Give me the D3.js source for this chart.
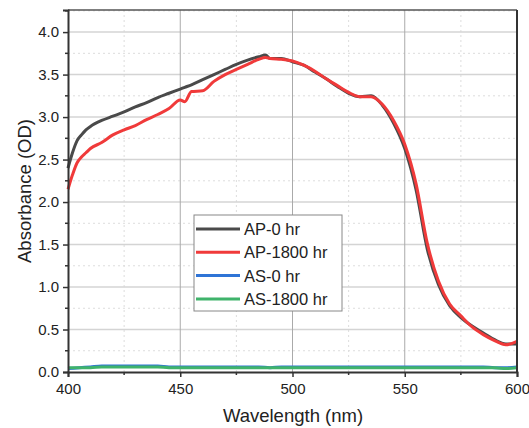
<!DOCTYPE html>
<html><head><meta charset="utf-8">
<script src="https://cdn.jsdelivr.net/npm/d3@7"></script>
<style>body{margin:0;background:#fff}svg{display:block}text{font-family:"Liberation Sans",Arial,sans-serif}</style>
</head><body>
<svg id="c" width="529" height="428"></svg>
<script>
const seriesNames = ["AP-0 hr","AP-1800 hr","AS-0 hr","AS-1800 hr"];
const seriesColors = ["#4a4a4a","#f03a3a","#2f74d6","#3fb36b"];
const wavelengthAP = [400,402,404,406,408,410,415,420,425,430,435,440,445,450,452,455,460,465,470,475,480,485,488,490,495,500,505,510,515,520,525,530,535,540,545,550,555,560,565,570,575,580,585,590,595,600];
const ap0 = [2.40,2.58,2.72,2.79,2.85,2.89,2.96,3.01,3.06,3.12,3.17,3.23,3.28,3.33,3.35,3.38,3.44,3.50,3.56,3.62,3.67,3.71,3.73,3.69,3.69,3.65,3.61,3.53,3.45,3.36,3.28,3.24,3.25,3.14,2.93,2.63,2.15,1.45,1.03,0.78,0.64,0.54,0.46,0.38,0.33,0.33];
const ap1800 = [2.15,2.32,2.46,2.53,2.58,2.63,2.70,2.79,2.85,2.90,2.97,3.03,3.10,3.20,3.18,3.30,3.31,3.42,3.50,3.56,3.62,3.68,3.70,3.69,3.68,3.66,3.61,3.54,3.45,3.37,3.29,3.24,3.24,3.15,2.96,2.68,2.22,1.52,1.07,0.80,0.66,0.53,0.44,0.37,0.32,0.36];
const wavelengthAS = [400,405,410,415,420,425,430,435,440,445,450,455,460,465,470,475,480,485,490,495,500,505,510,515,520,525,530,535,540,545,550,555,560,565,570,575,580,585,590,595,600];
const as0 = [0.04,0.05,0.06,0.07,0.07,0.07,0.07,0.07,0.07,0.06,0.06,0.06,0.06,0.06,0.06,0.06,0.06,0.06,0.05,0.06,0.06,0.06,0.06,0.06,0.06,0.06,0.06,0.06,0.06,0.06,0.06,0.06,0.06,0.06,0.06,0.06,0.06,0.06,0.05,0.05,0.06];
const as1800 = [0.05,0.05,0.05,0.06,0.06,0.06,0.06,0.06,0.06,0.05,0.05,0.05,0.05,0.05,0.05,0.05,0.05,0.05,0.05,0.05,0.05,0.05,0.05,0.05,0.05,0.05,0.05,0.05,0.05,0.05,0.05,0.05,0.05,0.05,0.05,0.05,0.05,0.05,0.05,0.04,0.05];
const yTicks = [0,0.5,1,1.5,2,2.5,3,3.5,4];
const xTicks = [400,450,500,550,600];

const svg = d3.select("#c");
const L=68,R=517,T=10,B=372;
const x = d3.scaleLinear().domain([400,600]).range([L,R]);
const y = d3.scaleLinear().domain([0,4.26]).range([B,T]);

const g = svg.append("g");
// minor grid
const yMinor = d3.range(0.25,4.26,0.5);
const xMinor = [425,475,525,575];
g.selectAll(".ym").data(yMinor).join("line").attr("x1",L).attr("x2",R).attr("y1",d=>y(d)).attr("y2",d=>y(d)).attr("stroke","#ddd").attr("stroke-width",1).attr("stroke-dasharray","2,3");
g.selectAll(".xm").data(xMinor).join("line").attr("y1",T).attr("y2",B).attr("x1",d=>x(d)).attr("x2",d=>x(d)).attr("stroke","#ddd").attr("stroke-width",1).attr("stroke-dasharray","2,3");
// major grid
g.selectAll(".yg").data(yTicks.slice(1)).join("line").attr("x1",L).attr("x2",R).attr("y1",d=>y(d)).attr("y2",d=>y(d)).attr("stroke","#d4d4d4").attr("stroke-width",1.5);
g.selectAll(".xg").data(xTicks.slice(1,-1)).join("line").attr("y1",T).attr("y2",B).attr("x1",d=>x(d)).attr("x2",d=>x(d)).attr("stroke","#aaa").attr("stroke-width",1);

// lines
const line = (xs)=>d3.line().x((d,i)=>x(xs[i])).y(d=>y(d)).curve(d3.curveMonotoneX);
const data = [[wavelengthAS,as0],[wavelengthAS,as1800],[wavelengthAP,ap0],[wavelengthAP,ap1800]];
const colorIdx = [2,3,0,1];
data.forEach((s,k)=>{
  svg.append("path").attr("d",line(s[0])(s[1])).attr("fill","none").attr("stroke",seriesColors[colorIdx[k]]).attr("stroke-width",3).attr("stroke-linejoin","round");
});

// frame
svg.append("line").attr("x1",L).attr("x2",R).attr("y1",T).attr("y2",T).attr("stroke","#555").attr("stroke-width",1.5);
svg.append("line").attr("x1",R).attr("x2",R).attr("y1",T).attr("y2",B).attr("stroke","#333").attr("stroke-width",2);

// axes
const yAxis = d3.axisLeft(y).tickValues(yTicks).tickFormat(d3.format(".1f")).tickSize(5).tickPadding(4);
const ya = svg.append("g").attr("transform",`translate(${L},0)`).call(yAxis);
const xAxis = d3.axisBottom(x).tickValues(xTicks).tickFormat(d3.format("d")).tickSize(5).tickPadding(6);
const xa = svg.append("g").attr("transform",`translate(0,${B})`).call(xAxis);
[ya,xa].forEach(a=>{a.select(".domain").attr("stroke","#333").attr("stroke-width",2);a.selectAll(".tick line").attr("stroke","#333").attr("stroke-width",1.5);a.selectAll("text").attr("font-size",15).attr("fill","#222").attr("font-family","Liberation Sans, Arial, sans-serif");});
// minor ticks
svg.append("g").selectAll("line").data(yMinor).join("line").attr("x1",L-3).attr("x2",L).attr("y1",d=>y(d)).attr("y2",d=>y(d)).attr("stroke","#333").attr("stroke-width",1.5);
svg.append("g").selectAll("line").data(xMinor).join("line").attr("y1",B).attr("y2",B+3).attr("x1",d=>x(d)).attr("x2",d=>x(d)).attr("stroke","#333").attr("stroke-width",1.5);

// titles
svg.append("text").attr("x",293).attr("y",422).attr("text-anchor","middle").attr("font-size",18.5).attr("fill","#222").text("Wavelength (nm)");
svg.append("text").attr("transform","translate(31,191) rotate(-90)").attr("text-anchor","middle").attr("font-size",18.5).attr("fill","#222").text("Absorbance (OD)");

// legend
const lg = svg.append("g");
lg.append("rect").attr("x",194).attr("y",215).attr("width",148).attr("height",96).attr("fill","#fff").attr("stroke","#888").attr("stroke-width",1);
seriesNames.forEach((n,i)=>{
  const yy = 229 + i*23.3;
  lg.append("line").attr("x1",196).attr("x2",240).attr("y1",yy).attr("y2",yy).attr("stroke",seriesColors[i]).attr("stroke-width",3);
  lg.append("text").attr("x",244).attr("y",yy+6).attr("font-size",16.5).attr("fill","#222").text(n);
});
</script>
</body></html>
